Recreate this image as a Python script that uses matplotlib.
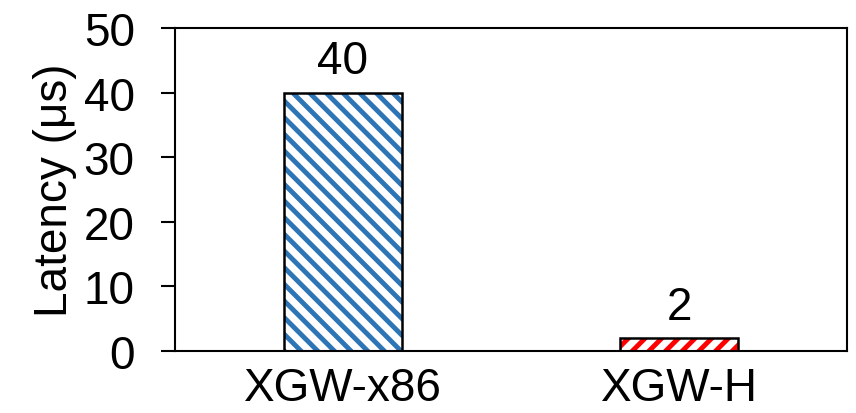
import matplotlib
matplotlib.use("Agg")
import matplotlib.pyplot as plt

categories = ["XGW-x86", "XGW-H"]
latency = [40, 2]
labels = ["40", "2"]
hatch_colors = ["#2E75B6", "#FF0000"]
hatches = ["\\\\", "//"]

plt.rcParams['font.family'] = ['Liberation Sans', 'DejaVu Sans']
plt.rcParams['hatch.linewidth'] = 3.5

FS = 33

fig = plt.figure(figsize=(8.56, 4.14), dpi=100)
ax = fig.add_axes([175/856, 1-352/414, (847-175)/856, (352-29)/414])

x = range(len(categories))
for i, (v, c, h) in enumerate(zip(latency, hatch_colors, hatches)):
    ax.bar(i, v, width=0.35, facecolor="white", edgecolor=c, hatch=h, linewidth=0)
    ax.bar(i, v, width=0.35, facecolor="none", edgecolor="black", linewidth=1.8)
    ax.text(i, v + 3.0, labels[i], ha="center", va="baseline", fontsize=FS)

ax.set_xlim(-0.5, 1.5)
ax.set_ylim(0, 50)
ax.set_yticks([0, 10, 20, 30, 40, 50])
ax.set_xticks(list(x))
ax.set_xticklabels(categories)
ax.tick_params(axis="y", labelsize=FS, length=10, width=1.5, direction="out", pad=19)
ax.tick_params(axis="x", labelsize=FS, length=0, pad=11)
ax.set_ylabel("Latency (μs)", fontsize=FS, labelpad=5)
for s in ax.spines.values():
    s.set_linewidth(1.5)

fig.savefig("out.png", dpi=100)
